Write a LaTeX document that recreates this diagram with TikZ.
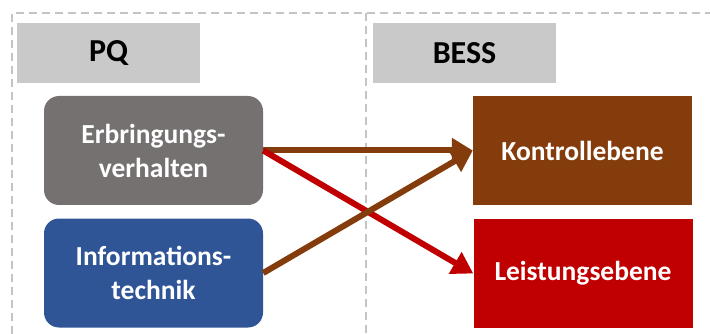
\documentclass[tikz,border=0pt]{standalone}
\usepackage{fontspec}
\setmainfont{Carlito}
\usetikzlibrary{arrows.meta}
\definecolor{hdrgray}{HTML}{C9C9C9}
\definecolor{boxgray}{HTML}{767171}
\definecolor{boxblue}{HTML}{2F5597}
\definecolor{boxbrown}{HTML}{843C0C}
\definecolor{boxred}{HTML}{C00000}
\definecolor{dashgray}{HTML}{C4C4C4}
\tikzset{
  frame/.style={draw=dashgray, line width=1.5pt, dash pattern=on 8pt off 5pt},
  header/.style={fill=hdrgray, minimum width=183pt, minimum height=60pt, inner sep=0pt,
    font=\fontsize{32}{38}\selectfont\bfseries, text=black},
  rbox/.style={rounded corners=15pt, minimum width=219pt, minimum height=109pt, inner sep=0pt,
    font=\fontsize{27.5}{34}\selectfont\bfseries, text=white, align=center},
  sbox/.style={minimum width=219pt, minimum height=109pt, inner sep=0pt,
    font=\fontsize{27.5}{34}\selectfont\bfseries, text=white, align=center},
  conn/.style={line width=6pt, -{Triangle[length=21pt,width=24pt]}},
}
\begin{document}
\begin{tikzpicture}[x=1pt,y=-1pt]
\useasboundingbox (0,0) rectangle (710,334);
% dashed frame
\draw[frame] (12,334) -- (12,13) -- (710,13);
\draw[frame] (366,13) -- (366,334);
% headers
\node[header] (pq) at (108.5,53) {PQ};
\node[header] (bess) at (464.5,53) {BESS};
% boxes
\node[rbox, fill=boxgray] (e) at (153.5,150.5) {Erbringungs-\\verhalten};
\node[rbox, fill=boxblue] (i) at (153.5,273) {Informations-\\technik};
\node[sbox, fill=boxbrown] (k) at (582.5,150.5) {Kontrollebene};
\node[sbox, fill=boxred] (l) at (583,273.5) {Leistungsebene};
% connectors
\draw[conn, draw=boxbrown, fill=boxbrown] (e.east) -- (k.west);
\draw[conn, draw=boxred, fill=boxred] (e.east) -- (l.west);
\draw[conn, draw=boxbrown, fill=boxbrown] (i.east) -- (k.west);
\end{tikzpicture}
\end{document}
